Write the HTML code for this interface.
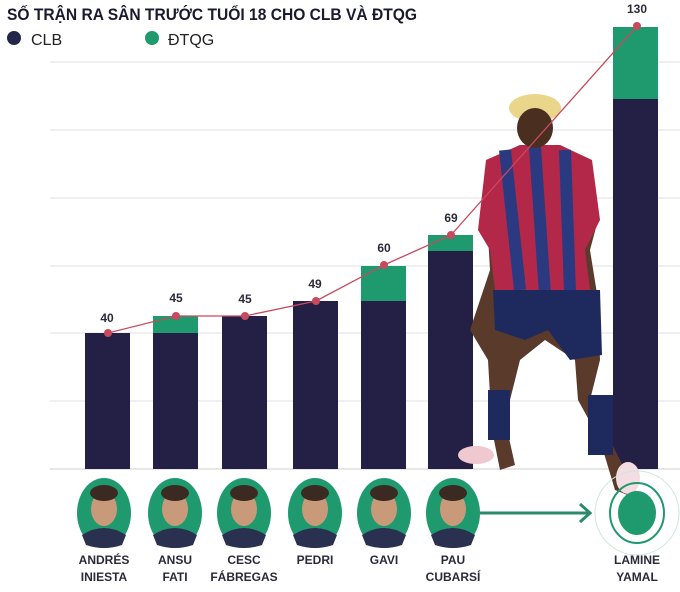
<!DOCTYPE html>
<html><head><meta charset="utf-8"><style>
body{margin:0;background:#fff;width:680px;height:587px;overflow:hidden}
svg text{font-family:"Liberation Sans",sans-serif}
</style></head><body>
<svg width="680" height="587" viewBox="0 0 680 587">
<defs>
<g id="p"><ellipse cx="0" cy="0" rx="27" ry="35" fill="#1f9a6e"/><ellipse cx="0" cy="-4" rx="13" ry="17" fill="#c89a7a"/><path d="M-22 22 Q0 8 22 22 L18 32 Q0 38 -18 32Z" fill="#2a3050"/><ellipse cx="0" cy="-20" rx="14" ry="8" fill="#3a2a22"/></g>
</defs>
<text x="7" y="20" font-size="17" font-weight="bold" fill="#1a1a2e" textLength="410" lengthAdjust="spacingAndGlyphs">SỐ TRẬN RA SÂN TRƯỚC TUỔI 18 CHO CLB VÀ ĐTQG</text>
<circle cx="14" cy="38" r="7" fill="#232649"/><text x="31" y="45" font-size="16" fill="#222">CLB</text>
<circle cx="152" cy="38" r="7" fill="#1f9a6e"/><text x="168" y="45" font-size="16" fill="#222">ĐTQG</text>
<g stroke="#e2e2e2" stroke-width="1">
<line x1="50" y1="62" x2="680" y2="62"/><line x1="50" y1="130" x2="680" y2="130"/><line x1="50" y1="198" x2="680" y2="198"/><line x1="50" y1="266" x2="680" y2="266"/><line x1="50" y1="333" x2="680" y2="333"/><line x1="50" y1="401" x2="680" y2="401"/><line x1="50" y1="469" x2="680" y2="469" stroke="#ccc"/>
</g>
<g fill="#241f45">
<rect x="85" y="333" width="45" height="136"/><rect x="153" y="333" width="45" height="136"/><rect x="222" y="316" width="45" height="153"/><rect x="293" y="301" width="45" height="168"/><rect x="361" y="301" width="45" height="168"/><rect x="428" y="251" width="45" height="218"/><rect x="613" y="99" width="45" height="370"/>
</g>
<g fill="#1f9a6e">
<rect x="153" y="316" width="45" height="17"/><rect x="361" y="266" width="45" height="35"/><rect x="428" y="235" width="45" height="16"/><rect x="613" y="27" width="45" height="72"/>
</g>
<g>
<path d="M500 470 L492 430 L488 360 L470 330 L480 300 L490 270 L486 200 L488 160 L520 145 L560 145 L590 160 L598 220 L590 250 L598 300 L600 360 L590 400 L620 460 L640 500 L615 490 L600 440 L578 400 L575 360 L545 340 L520 360 L505 420 L515 465 Z" fill="#5a3a2a"/>
<path d="M486 160 L520 145 L560 145 L592 160 L600 220 L585 250 L590 290 L545 300 L495 290 L490 250 L478 230 Z" fill="#b32848"/>
<path d="M505 150 L520 290 M535 147 L545 295 M565 150 L570 292" stroke="#2b3a80" stroke-width="12"/>
<path d="M493 290 L600 290 L602 355 L570 360 L548 330 L525 340 L495 330 Z" fill="#1e2a5e"/>
<ellipse cx="535" cy="108" rx="26" ry="14" fill="#e9d68a"/>
<ellipse cx="535" cy="128" rx="18" ry="20" fill="#4a2e20"/>
<rect x="488" y="390" width="22" height="50" fill="#1e2a5e"/><rect x="588" y="395" width="25" height="60" fill="#1e2a5e"/>
<ellipse cx="476" cy="455" rx="18" ry="9" fill="#f0c8d0"/><ellipse cx="628" cy="478" rx="12" ry="16" fill="#f3dde2"/>
</g>
<polyline points="108,333 176,316 245,316 316,301 384,265 451,235 637,26" fill="none" stroke="#c9495d" stroke-width="1.3"/>
<g fill="#c9495d"><circle cx="108" cy="333" r="4"/><circle cx="176" cy="316" r="4"/><circle cx="245" cy="316" r="4"/><circle cx="316" cy="301" r="4"/><circle cx="384" cy="265" r="4"/><circle cx="451" cy="235" r="4"/><circle cx="637" cy="26" r="4"/></g>
<g font-size="12" font-weight="bold" fill="#2a2a3a" text-anchor="middle">
<text x="107" y="322">40</text><text x="176" y="302">45</text><text x="245" y="303">45</text><text x="315" y="288">49</text><text x="384" y="252">60</text><text x="451" y="222">69</text><text x="637" y="13">130</text>
</g>
<use href="#p" x="104" y="513"/><use href="#p" x="175" y="513"/><use href="#p" x="244" y="513"/><use href="#p" x="315" y="513"/><use href="#p" x="384" y="513"/><use href="#p" x="453" y="513"/>
<line x1="480" y1="513" x2="588" y2="513" stroke="#2a8a6a" stroke-width="3"/>
<path d="M580 504 L590 513 L580 522" fill="none" stroke="#2a8a6a" stroke-width="3"/>
<circle cx="637" cy="513" r="42" fill="none" stroke="#cfe6dc" stroke-width="1"/>
<ellipse cx="637" cy="513" rx="27" ry="30" fill="none" stroke="#1f9a6e" stroke-width="2"/>
<ellipse cx="637" cy="513" rx="19" ry="22" fill="#1f9a6e"/>
<g font-size="12" font-weight="bold" fill="#2a2a3a" text-anchor="middle">
<text x="104" y="564">ANDRÉS</text><text x="104" y="581">INIESTA</text>
<text x="175" y="564">ANSU</text><text x="175" y="581">FATI</text>
<text x="244" y="564">CESC</text><text x="244" y="581">FÁBREGAS</text>
<text x="315" y="564">PEDRI</text>
<text x="384" y="564">GAVI</text>
<text x="453" y="564">PAU</text><text x="453" y="581">CUBARSÍ</text>
<text x="637" y="564">LAMINE</text><text x="637" y="581">YAMAL</text>
</g>
</svg>
</body></html>
